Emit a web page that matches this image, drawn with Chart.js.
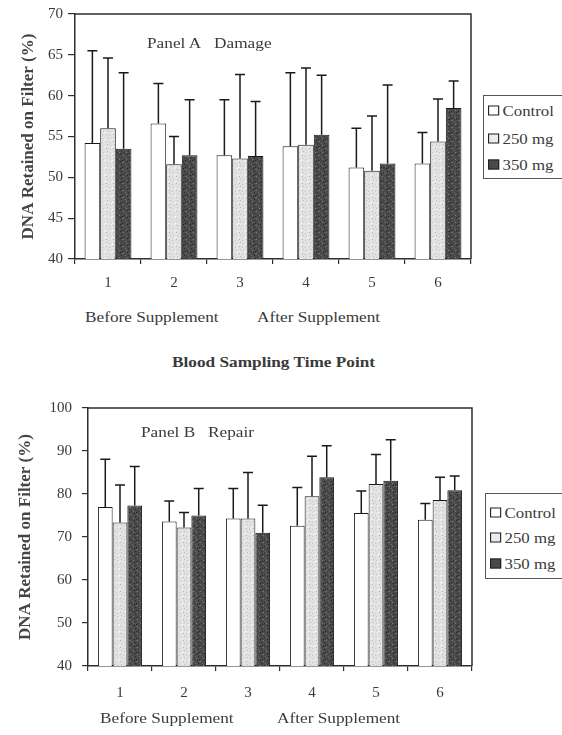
<!DOCTYPE html>
<html>
<head>
<meta charset="utf-8">
<script src="https://cdn.jsdelivr.net/npm/chart.js@4.4.0/dist/chart.umd.min.js"></script>
<style>
html,body{margin:0;padding:0;background:#fff;width:562px;height:735px;overflow:hidden;position:relative;font-family:"Liberation Serif","Times New Roman",serif;color:#3a3a3a}
canvas{position:absolute;left:0}
.t{position:absolute;white-space:nowrap;line-height:1;font-size:15px;transform-origin:0 50%;transform:translateY(-50%) scaleX(1.15)}
.b{font-weight:bold}
.legend{position:absolute;border:1px solid #555;background:#fff;width:110px}
.li{position:absolute;left:4px;white-space:nowrap;line-height:1;font-size:15px;transform-origin:0 50%;transform:translateY(-50%) scaleX(1.12)}
.sw{display:inline-block;width:8px;height:8px;border:1px solid #222;margin-right:3px;vertical-align:0px}
</style>
</head>
<body>
<canvas id="cA" width="562" height="300" style="top:0"></canvas>
<canvas id="cB" width="562" height="355" style="top:380px"></canvas>

<div class="t" style="left:147px;top:43px">Panel A&nbsp;&nbsp;&nbsp;Damage</div>
<div class="t" style="left:85px;top:317px">Before Supplement</div>
<div class="t" style="left:257px;top:317px">After Supplement</div>
<div class="t b" style="left:172px;top:362px">Blood Sampling Time Point</div>

<div class="t" style="left:141px;top:432px">Panel B&nbsp;&nbsp;&nbsp;Repair</div>
<div class="t" style="left:100px;top:718px">Before Supplement</div>
<div class="t" style="left:277px;top:718px">After Supplement</div>

<div class="legend" id="legA" style="left:483px;top:95px;height:82px"></div>
<div class="legend" id="legB" style="left:485px;top:493px;height:84px"></div>

<script>
// ---- data ----
const categories = ['1', '2', '3', '4', '5', '6'];
const seriesNames = ['Control', '250 mg', '350 mg'];

// Panel A: Damage (means and upper error, as SD)
const damageControl   = [54.2, 56.6, 52.7, 53.8, 51.2, 51.7];
const damageControlSD = [11.3, 4.9, 6.8, 9.0, 4.8, 3.8];
const damage250       = [56.0, 51.6, 52.3, 54.0, 50.8, 54.4];
const damage250SD     = [8.6, 3.4, 10.3, 9.4, 6.7, 5.2];
const damage350       = [53.5, 52.7, 52.6, 55.2, 51.7, 58.5];
const damage350SD     = [9.3, 6.8, 6.7, 7.3, 9.6, 3.3];
const damageYTicks    = [40, 45, 50, 55, 60, 65, 70];

// Panel B: Repair
const repairControl   = [77.0, 73.6, 74.3, 72.6, 75.6, 74.0];
const repairControlSD = [11.1, 4.8, 7.0, 8.9, 5.1, 3.8];
const repair250       = [73.4, 72.2, 74.3, 79.5, 82.3, 78.6];
const repair250SD     = [8.7, 3.5, 10.7, 9.3, 6.9, 5.3];
const repair350       = [77.3, 75.0, 71.0, 83.9, 83.1, 80.9];
const repair350SD     = [9.1, 6.3, 6.4, 7.3, 9.5, 3.3];
const repairYTicks    = [40, 50, 60, 70, 80, 90, 100];

const yTitle = 'DNA Retained on Filter (%)';

// ---- styles ----
function makePattern(base, dots) {
  const p = document.createElement('canvas');
  p.width = 7; p.height = 7;
  const g = p.getContext('2d');
  g.fillStyle = base; g.fillRect(0, 0, 7, 7);
  dots.forEach(([x, y, c]) => { g.fillStyle = c; g.fillRect(x, y, 1, 1); });
  return g.createPattern(p, 'repeat');
}
const ctxTmp = document.createElement('canvas').getContext('2d');
const lightFill = makePattern('#e2e2e2', [[1,1,'#b5b5b5'],[4,2,'#c4c4c4'],[2,4,'#bdbdbd'],[5,5,'#c8c8c8'],[0,6,'#ffffff'],[6,0,'#f4f4f4']]);
const darkFill = makePattern('#4a4a4a', [[1,0,'#222'],[4,1,'#7a7a7a'],[2,3,'#2a2a2a'],[6,3,'#6a6a6a'],[0,5,'#808080'],[3,6,'#252525'],[5,5,'#333'],[3,1,'#5c5c5c']]);
const fills = ['#ffffff', lightFill, darkFill];
const swatchBg = ['#ffffff', '#ececec', '#4a4a4a'];
const axisColor = '#2e2e2e';
const textColor = '#3a3a3a';
const serif = '"Liberation Serif", "Times New Roman", serif';

const errorBars = {
  id: 'errorBars',
  afterDatasetsDraw(chart) {
    const ctx = chart.ctx;
    const ys = chart.scales.y;
    ctx.save();
    ctx.strokeStyle = '#1a1a1a';
    ctx.lineWidth = 1.5;
    chart.data.datasets.forEach((ds, i) => {
      const meta = chart.getDatasetMeta(i);
      meta.data.forEach((bar, j) => {
        const top = ys.getPixelForValue(ds.data[j] + ds.sd[j]);
        ctx.beginPath();
        ctx.moveTo(bar.x, bar.y);
        ctx.lineTo(bar.x, top);
        ctx.moveTo(bar.x - 5, top);
        ctx.lineTo(bar.x + 5, top);
        ctx.stroke();
      });
    });
    ctx.restore();
  }
};
const frame = {
  id: 'frame',
  afterDraw(chart) {
    const a = chart.chartArea, ctx = chart.ctx;
    ctx.save();
    ctx.strokeStyle = axisColor;
    ctx.lineWidth = 1.5;
    ctx.beginPath();
    ctx.moveTo(a.left, a.top);
    ctx.lineTo(a.right, a.top);
    ctx.lineTo(a.right, a.bottom);
    ctx.stroke();
    ctx.restore();
  }
};

function makeChart(id, series, sds, yTicks, g) {
  const ctx = document.getElementById(id).getContext('2d');
  return new Chart(ctx, {
    type: 'bar',
    data: {
      labels: categories,
      datasets: series.map((d, i) => ({
        label: seriesNames[i],
        data: d,
        sd: sds[i],
        backgroundColor: fills[i],
        borderColor: '#1a1a1a',
        borderWidth: 1,
        barPercentage: 1,
        categoryPercentage: g.catPct
      }))
    },
    options: {
      responsive: false,
      animation: false,
      events: [],
      layout: { padding: { top: g.top, right: g.right, bottom: 0, left: 0 } },
      plugins: { legend: { display: false }, tooltip: { enabled: false } },
      scales: {
        x: {
          afterFit(s) { s.height = g.xH; },
          grid: { display: true, drawOnChartArea: false, drawTicks: true, tickLength: 5, color: axisColor, lineWidth: 1.2, offset: true },
          border: { display: true, color: axisColor, width: 1.5 },
          ticks: { color: textColor, padding: g.xPad, font: { family: serif, size: 15 } }
        },
        y: {
          min: yTicks[0],
          max: yTicks[yTicks.length - 1],
          afterFit(s) { s.width = g.left; },
          afterBuildTicks(s) { s.ticks = yTicks.map(v => ({ value: v })); },
          grid: { display: true, drawOnChartArea: false, drawTicks: true, tickLength: g.yTL, color: axisColor, lineWidth: 1.2 },
          border: { display: true, color: axisColor, width: 1.5 },
          ticks: { color: textColor, padding: g.yPad, font: { family: serif, size: 15 } },
          title: { display: true, text: yTitle, color: '#444', padding: { top: g.tPad, bottom: 0 }, font: { family: serif, size: 17, weight: 'bold' } }
        }
      }
    },
    plugins: [errorBars, frame]
  });
}

makeChart('cA',
  [damageControl, damage250, damage350],
  [damageControlSD, damage250SD, damage350SD],
  damageYTicks,
  { top: 14, right: 91, left: 75, xH: 41, xPad: 10, yTL: 7, yPad: 5, tPad: 18, catPct: 0.71 });

makeChart('cB',
  [repairControl, repair250, repair350],
  [repairControlSD, repair250SD, repair350SD],
  repairYTicks,
  { top: 28, right: 90, left: 88, xH: 69, xPad: 13, yTL: 6, yPad: 10, tPad: 15, catPct: 0.69 });

function legend(id, ys) {
  const el = document.getElementById(id);
  seriesNames.forEach((n, i) => {
    const d = document.createElement('div');
    d.className = 'li';
    d.style.top = ys[i] + 'px';
    d.innerHTML = '<span class="sw" style="background:' + swatchBg[i] + '"></span>' + n;
    el.appendChild(d);
  });
}
legend('legA', [15, 43, 69]);
legend('legB', [19, 44, 70]);
</script>
</body>
</html>
